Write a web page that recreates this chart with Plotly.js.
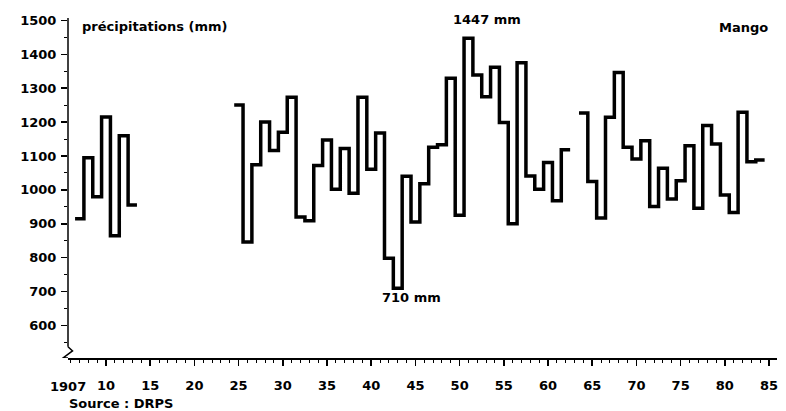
<!DOCTYPE html>
<html>
<head>
<meta charset="utf-8">
<script src="https://cdn.plot.ly/plotly-3.0.1.min.js"></script>
<style>
html,body{margin:0;padding:0;background:#fff;}
#chart{width:786px;height:411px;}
</style>
</head>
<body>
<div id="chart"></div>
<script>
// Annual rainfall at Mango (mm); null = no data
const years = [
  1907,1908,1909,1910,1911,1912,1913,1914,1915,1916,1917,1918,1919,1920,1921,1922,1923,1924,
  1925,1926,1927,1928,1929,1930,1931,1932,1933,1934,1935,1936,1937,1938,1939,1940,1941,1942,
  1943,1944,1945,1946,1947,1948,1949,1950,1951,1952,1953,1954,1955,1956,1957,1958,1959,1960,
  1961,1962,1963,1964,1965,1966,1967,1968,1969,1970,1971,1972,1973,1974,1975,1976,1977,1978,
  1979,1980,1981,1982,1983,1984
];
const rainfall = [
  915,1095,980,1215,865,1160,955,null,null,null,null,null,null,null,null,null,null,null,
  1250,846,1074,1200,1116,1170,1273,920,909,1072,1147,1002,1122,990,1273,1061,1168,798,
  710,1040,905,1018,1126,1133,1329,925,1447,1339,1275,1362,1199,900,1375,1041,1002,1081,
  968,1118,null,1227,1025,917,1214,1346,1126,1091,1145,951,1064,973,1027,1130,946,1190,
  1135,985,933,1229,1083,1088
];
const xTickVals = [1910,1915,1920,1925,1930,1935,1940,1945,1950,1955,1960,1965,1970,1975,1980,1985];
const xTickText = ["10","15","20","25","30","35","40","45","50","55","60","65","70","75","80","85"];
const firstYearLabel = "1907";
const yLabel = "précipitations (mm)";
const station = "Mango";
const maxLabel = "1447 mm";
const minLabel = "710 mm";
const source = "Source : DRPS";

// each year drawn as a horizontal step one year wide
const sx = [], sy = [];
for (let i = 0; i < years.length; i++) {
  const v = rainfall[i];
  if (v === null) { sx.push(null); sy.push(null); continue; }
  sx.push(years[i] - 0.5, years[i] + 0.5);
  sy.push(v, v);
}

const F = {family: "DejaVu Sans, Arial, sans-serif", size: 13, color: "#000", weight: 700};

const trace = {
  x: sx, y: sy, type: "scatter", mode: "lines",
  line: {color: "#000", width: 3.5, shape: "linear"},
  connectgaps: false, hoverinfo: "skip"
};

const layout = {
  width: 786, height: 411,
  margin: {l: 68, r: 9, t: 18, b: 53},
  paper_bgcolor: "#fff", plot_bgcolor: "#fff",
  showlegend: false,
  font: F,
  xaxis: {
    range: [1905.7, 1985.9],
    showgrid: false, zeroline: false,
    showline: true, linecolor: "#000", linewidth: 1.5,
    ticks: "outside", ticklen: 6, tickwidth: 1.5, tickcolor: "#000",
    tickmode: "array", tickvals: xTickVals, ticktext: xTickText,
    tickangle: 0, ticklabelstandoff: 9,
    tickfont: F,
    minor: {dtick: 1, tick0: 1906, ticks: "outside", ticklen: 3.5, tickwidth: 1, tickcolor: "#000"}
  },
  yaxis: {
    range: [504, 1507],
    showgrid: false, zeroline: false, showline: false,
    ticks: "outside", ticklen: 6, tickwidth: 1.5, tickcolor: "#000",
    tick0: 500, dtick: 100, tickangle: 0,
    ticklabelstandoff: 2,
    tickfont: F,
    minor: {dtick: 50, ticks: "outside", ticklen: 3, tickwidth: 1, tickcolor: "#000"}
  },
  shapes: [
    {type: "line", xref: "paper", yref: "y", x0: 0, x1: 0, y0: 537, y1: 1507,
     line: {color: "#000", width: 1.5}},
    {type: "path", xref: "paper", xsizemode: "pixel", xanchor: 0, yref: "y",
     path: "M0,537 L4.5,525 L-5,504 L0,504", line: {color: "#000", width: 1.5}}
  ],
  annotations: [
    {text: yLabel, xref: "paper", yref: "paper", x: 0.017, y: 0.976, xanchor: "left", yanchor: "middle", showarrow: false, font: F},
    {text: station, xref: "paper", yref: "paper", x: 0.990, y: 0.971, xanchor: "right", yanchor: "middle", showarrow: false, font: F},
    {text: maxLabel, xref: "paper", yref: "paper", x: 0.591, y: 0.997, xanchor: "center", yanchor: "middle", showarrow: false, font: F},
    {text: minLabel, xref: "paper", yref: "paper", x: 0.4838, y: 0.179, xanchor: "center", yanchor: "middle", showarrow: false, font: F},
    {text: firstYearLabel, xref: "paper", yref: "paper", x: 0, y: -0.085, xanchor: "center", yanchor: "middle", showarrow: false, font: F},
    {text: source, xref: "paper", yref: "paper", x: -0.0014, y: -0.135, xanchor: "left", yanchor: "middle", showarrow: false, font: F}
  ]
};

Plotly.newPlot("chart", [trace], layout, {displayModeBar: false, staticPlot: true});
</script>
</body>
</html>
